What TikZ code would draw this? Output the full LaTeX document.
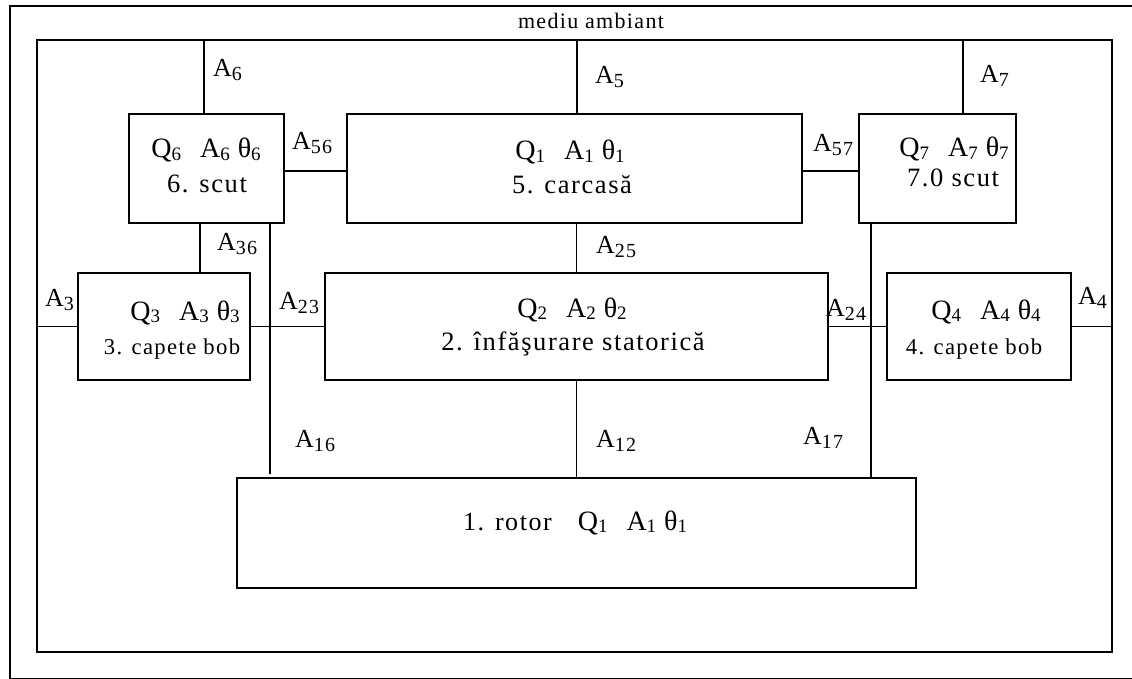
\documentclass[tikz,border=0pt]{standalone}
\usepackage{fontspec}
\setmainfont{Liberation Serif}[LetterSpace=6]
% lowered index digits
\newcommand\subidx[1]{\raisebox{-2.5pt}{\fontsize{19}{19}\selectfont #1}}
\newcommand\labidx[1]{\raisebox{-4pt}{\fontsize{20}{20}\selectfont #1}}
% heat, area and temperature of one body
\newcommand\qat[1]{Q\subidx{#1}\hspace{19pt}A\subidx{#1}\hspace{8pt}θ\subidx{#1}}
\newcommand\alab[1]{A\labidx{#1}}
\begin{document}
\begin{tikzpicture}[x=1pt,y=-1pt,
  frame/.style={draw,line width=1.3pt},
  box/.style={draw,line width=1.3pt,rectangle,inner sep=0pt},
  wire/.style={line width=1.2pt},
  lbl/.style={anchor=base west,inner sep=0pt,font=\fontsize{26}{26}\selectfont},
  txtA/.style={anchor=base,inner sep=0pt,font=\fontsize{28}{28}\selectfont},
  txtB/.style={anchor=base,inner sep=0pt,font=\fontsize{26.5}{26.5}\selectfont},
  txtC/.style={anchor=base,inner sep=0pt,font=\fontsize{22.7}{22.7}\selectfont},
]
\useasboundingbox (0,0) rectangle (1132,679);
\fill[white] (0,0) rectangle (1132,679);

% surroundings
\draw[frame] (10,6) rectangle (1150,678.8);
\node[anchor=base,inner sep=0pt,font=\fontsize{22}{22}\selectfont] (amb) at (591,29) {mediu ambiant};
\node[box,minimum width=1075pt,minimum height=612pt] (env) at (574.5,346) {};

% bodies
\node[box,minimum width=155pt,minimum height=109pt] (b6) at (206.5,168.5) {};
\node[box,minimum width=455pt,minimum height=109pt] (b5) at (574.5,168.5) {};
\node[box,minimum width=157pt,minimum height=109pt] (b7) at (937.5,168.5) {};
\node[box,minimum width=172pt,minimum height=107pt] (b3) at (164,326.5) {};
\node[box,minimum width=503pt,minimum height=107pt] (b2) at (576.5,326.5) {};
\node[box,minimum width=184pt,minimum height=107pt] (b4) at (979,326.5) {};
\node[box,minimum width=679pt,minimum height=110pt] (rotor) at (576.5,533) {};

% texts inside the bodies
\node[txtA] (t6a) at (206,158) {\qat{6}};
\node[txtB] (t6b) at (207,193) {6. scut};
\node[txtA] (t5a) at (570,160) {\qat{1}};
\node[txtB] (t5b) at (572,194) {5. carcasă};
\node[txtA] (t7a) at (954,157) {\qat{7}};
\node[txtB] (t7b) at (953,187) {7.0 scut};
\node[txtA] (t3a) at (185,320) {\qat{3}};
\node[txtC] (t3b) at (172,354) {3. capete bob};
\node[txtA] (t2a) at (572,317) {\qat{2}};
\node[txtB] (t2b) at (573,350) {2. înfăşurare statorică};
\node[txtA] (t4a) at (986,319) {\qat{4}};
\node[txtC] (t4b) at (974,354) {4. capete bob};
\node[txtA,anchor=base west] (t1) at (463,530) {{\fontsize{26}{26}\selectfont 1. rotor}\hspace{26pt}\qat{1}};

% links to the surroundings
\path (b6.north) ++(-2.5,0) coordinate (p6);
\draw[wire] (p6) -- (p6 |- env.north);
\path (b5.north) ++(2.5,0) coordinate (p5);
\draw[wire] (p5) -- (p5 |- env.north);
\path (b7.north) ++(25.5,0) coordinate (p7);
\draw[wire] (p7) -- (p7 |- env.north);
\draw[wire] (b3.west) -- (b3.west -| env.west);
\draw[wire] (b4.east) -- (b4.east -| env.east);

% links between bodies
\path (b6.east) ++(0,2.5) coordinate (p56);
\draw[wire] (p56) -- (p56 -| b5.west);
\path (b5.east) ++(0,2.5) coordinate (p57);
\draw[wire] (p57) -- (p57 -| b7.west);
\path (b3.north) ++(36,0) coordinate (p36);
\draw[wire] (p36) -- (p36 |- b6.south);
\draw[wire] (b3.east) -- (b2.west);
\draw[wire] (b2.east) -- (b4.west);
\draw[wire] (b2.north) -- (b2.north |- b5.south);
\draw[wire] (b2.south) -- (b2.south |- rotor.north);
\path (b6.south) ++(63.5,0) coordinate (p16);
\path (rotor.north -| p16) ++(0,-3) coordinate (q16);
\draw[wire] (p16) -- (q16);
\path (b7.south) ++(-66.5,0) coordinate (p17);
\draw[wire] (p17) -- (p17 |- rotor.north);

% conductance labels
\node[lbl] (l6) at (213,77) {\alab{6}};
\node[lbl] (l5) at (595,84) {\alab{5}};
\node[lbl] (l7) at (980,83) {\alab{7}};
\node[lbl] (l56) at (292,150) {\alab{56}};
\node[lbl] (l57) at (813,152) {\alab{57}};
\node[lbl] (l36) at (217,250) {\alab{36}};
\node[lbl] (l3) at (45,306) {\alab{3}};
\node[lbl] (l23) at (279,309) {\alab{23}};
\node[lbl] (l25) at (596,253) {\alab{25}};
\node[lbl] (l24) at (826,316) {\alab{24}};
\node[lbl] (l4) at (1078,304) {\alab{4}};
\node[lbl] (l16) at (295,447) {\alab{16}};
\node[lbl] (l12) at (596,447) {\alab{12}};
\node[lbl] (l17) at (803,444) {\alab{17}};
\end{tikzpicture}
\end{document}
